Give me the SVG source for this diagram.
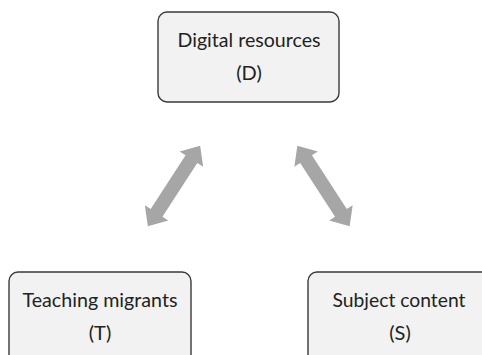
<svg xmlns="http://www.w3.org/2000/svg" width="482" height="355" viewBox="0 0 482 355">
  <defs>
    <style>
      .box { fill: #f2f2f2; stroke: #3a3a3a; stroke-width: 1.4; }
      .label { font-family: Lato, "Open Sans", "Liberation Sans", sans-serif; font-size: 20px; fill: #222222; text-anchor: middle; }
      .arrow { fill: #a6a6a6; }
    </style>
    <!-- horizontal double-headed block arrow centred on the origin -->
    <polygon id="dbl" points="-48,0 -32,-14 -32,-7 32,-7 32,-14 48,0 32,14 32,7 -32,7 -32,14"/>
  </defs>

  <rect width="482" height="355" fill="#ffffff"/>

  <g id="connectors">
    <use href="#dbl" class="arrow" transform="translate(174,186) rotate(-57)"/>
    <use href="#dbl" class="arrow" transform="translate(323.5,186) rotate(57)"/>
  </g>

  <g id="node-digital">
    <rect class="box" x="158" y="12" width="181" height="90" rx="9"/>
    <text class="label" x="249" y="47" textLength="143" lengthAdjust="spacingAndGlyphs">Digital resources</text>
    <text class="label" x="249" y="80">(D)</text>
  </g>

  <g id="node-teaching">
    <rect class="box" x="9" y="272" width="182" height="100" rx="9"/>
    <text class="label" x="100" y="307" textLength="155" lengthAdjust="spacingAndGlyphs">Teaching migrants</text>
    <text class="label" x="100" y="340">(T)</text>
  </g>

  <g id="node-subject">
    <rect class="box" x="308" y="272" width="182" height="100" rx="9"/>
    <text class="label" x="399" y="307" textLength="133" lengthAdjust="spacingAndGlyphs">Subject content</text>
    <text class="label" x="400" y="340">(S)</text>
  </g>
</svg>
